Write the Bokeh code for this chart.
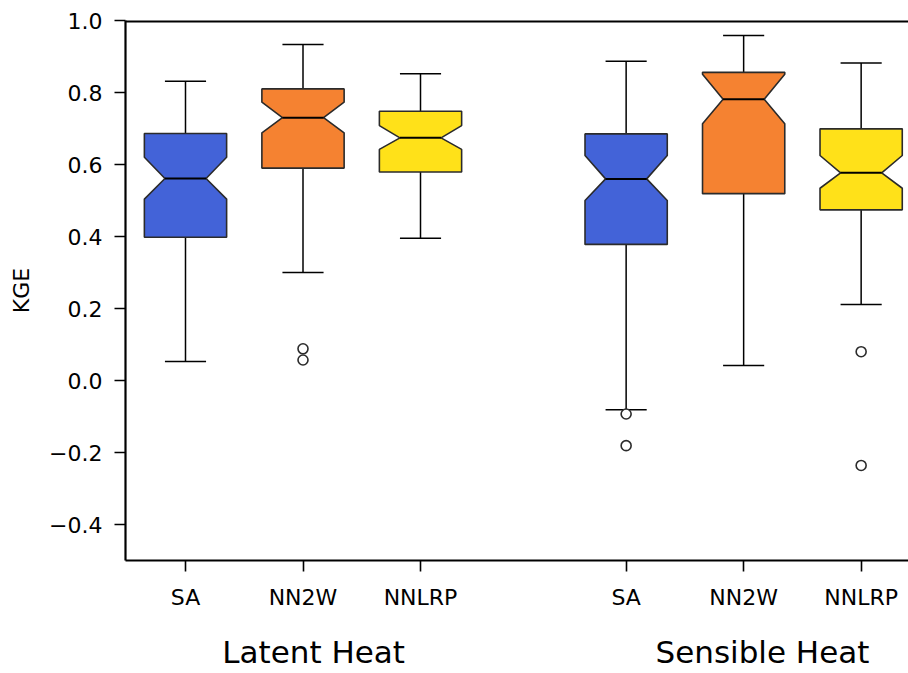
from bokeh.plotting import figure
from bokeh.models import FixedTicker, LinearAxis, Range1d, Span
from bokeh.embed import file_html
from bokeh.resources import INLINE

# KGE box statistics per model and flux
methods = ["SA", "NN2W", "NNLRP", "SA", "NN2W", "NNLRP"]
positions = [1.0, 2.0, 3.0, 4.75, 5.75, 6.75]
groups = ["Latent Heat", "Sensible Heat"]
group_positions = [2.09, 5.91]
colors = ["#4363d8", "#f58231", "#ffe119", "#4363d8", "#f58231", "#ffe119"]

y_ticks = [-0.4, -0.2, 0.0, 0.2, 0.4, 0.6, 0.8, 1.0]
y_tick_labels = ["\u22120.4", "\u22120.2", "0.0", "0.2", "0.4", "0.6", "0.8", "1.0"]

whisker_low = [0.053, 0.300, 0.395, -0.081, 0.042, 0.211]
q1 = [0.398, 0.590, 0.579, 0.378, 0.519, 0.474]
notch_low = [0.504, 0.688, 0.642, 0.500, 0.713, 0.534]
median = [0.561, 0.730, 0.674, 0.560, 0.781, 0.577]
notch_high = [0.620, 0.773, 0.708, 0.625, 0.851, 0.625]
q3 = [0.686, 0.810, 0.748, 0.685, 0.856, 0.699]
whisker_high = [0.831, 0.933, 0.852, 0.887, 0.958, 0.882]

flier_pos = [2.0, 2.0, 4.75, 4.75, 6.75, 6.75]
flier_val = [0.088, 0.057, -0.093, -0.181, 0.080, -0.236]

box_width = 0.7
half = box_width / 2
notch_half = box_width / 4
cap_half = box_width / 4

FONT = "DejaVu Sans"
EDGE = "#2b2b2b"

p = figure(
    width=908, height=673,
    x_range=Range1d(0.4894, 7.153), y_range=Range1d(-0.5, 1.0),
    output_backend="svg", toolbar_location=None,
    min_border_left=125, min_border_right=0, min_border_top=20, min_border_bottom=113,
)
p.outline_line_color = None
p.xgrid.grid_line_color = None
p.ygrid.grid_line_color = None
p.background_fill_color = "white"
p.border_fill_color = "white"

# top spine
p.add_layout(Span(location=1.0, dimension="width", line_color="black", line_width=4))

# whiskers and caps
p.segment(x0=positions, y0=q3, x1=positions, y1=whisker_high, line_color="black", line_width=1.5)
p.segment(x0=positions, y0=q1, x1=positions, y1=whisker_low, line_color="black", line_width=1.5)
p.segment(x0=[x - cap_half for x in positions], y0=whisker_high,
          x1=[x + cap_half for x in positions], y1=whisker_high, line_color="black", line_width=1.5)
p.segment(x0=[x - cap_half for x in positions], y0=whisker_low,
          x1=[x + cap_half for x in positions], y1=whisker_low, line_color="black", line_width=1.5)

# notched boxes
xs, ys = [], []
for x, a, nl, m, nh, b in zip(positions, q1, notch_low, median, notch_high, q3):
    L, R = x - half, x + half
    xs.append([L, R, R, x + notch_half, R, R, L, L, x - notch_half, L])
    ys.append([a, a, nl, m, nh, b, b, nh, m, nl])
p.patches(xs=xs, ys=ys, fill_color=colors, line_color=EDGE, line_width=1.6)

# median lines
p.segment(x0=[x - notch_half for x in positions], y0=median,
          x1=[x + notch_half for x in positions], y1=median, line_color="black", line_width=2)

# outliers
p.scatter(x=flier_pos, y=flier_val, marker="circle", size=10,
          fill_color="white", line_color=EDGE, line_width=1.6)

# y axis
ya = p.yaxis[0]
ya.ticker = FixedTicker(ticks=y_ticks)
ya.major_label_overrides = {t: s for t, s in zip(y_ticks, y_tick_labels)}
ya.axis_label = "KGE"
ya.axis_label_text_font = FONT
ya.axis_label_text_font_size = "22px"
ya.axis_label_text_font_style = "normal"
ya.axis_label_text_color = "black"
ya.axis_label_standoff = 12
ya.major_label_text_font = FONT
ya.major_label_text_font_size = "22px"
ya.major_label_text_color = "black"
ya.major_label_standoff = 12
ya.major_tick_out = 11
ya.major_tick_in = 0
ya.major_tick_line_width = 1.6
ya.minor_tick_line_color = None
ya.axis_line_width = 2.2

# x axis with method names
xa = p.xaxis[0]
xa.ticker = FixedTicker(ticks=positions)
xa.major_label_overrides = {pos: name for pos, name in zip(positions, methods)}
xa.major_label_text_font = FONT
xa.major_label_text_font_size = "22px"
xa.major_label_text_color = "black"
xa.major_label_standoff = 13
xa.major_tick_out = 11
xa.major_tick_in = 0
xa.major_tick_line_width = 1.6
xa.minor_tick_line_color = None
xa.axis_line_width = 2.2

# second axis with flux group names
ga = LinearAxis(ticker=FixedTicker(ticks=group_positions))
ga.major_label_overrides = {pos: name for pos, name in zip(group_positions, groups)}
ga.major_label_text_font = FONT
ga.major_label_text_font_size = "31px"
ga.major_label_text_color = "black"
ga.major_label_standoff = 21
ga.major_tick_out = 0
ga.major_tick_in = 0
ga.major_tick_line_color = None
ga.minor_tick_line_color = None
ga.axis_line_color = None
p.add_layout(ga, "below")

open("out.html", "w").write(file_html(p, INLINE))
